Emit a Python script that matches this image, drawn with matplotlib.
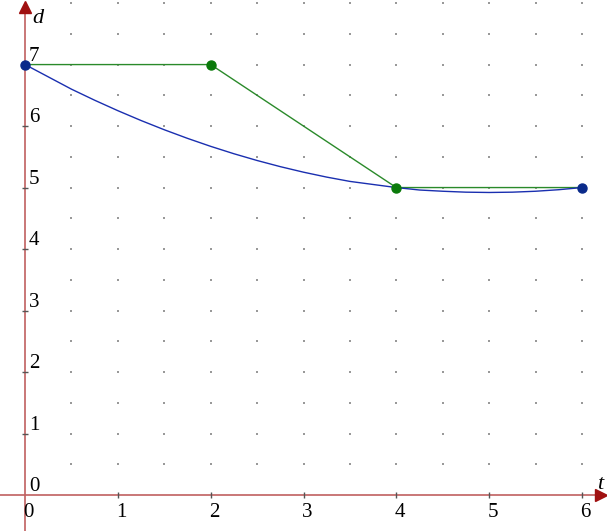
import matplotlib.pyplot as plt
import numpy as np

# values
green_t = [0, 2, 4, 6]
green_d = [7, 7, 5, 5]

blue_t = [0, 0.25, 0.5, 0.75, 1, 1.25, 1.5, 1.75, 2, 2.25, 2.5, 2.75, 3,
          3.25, 3.5, 3.75, 4, 4.25, 4.5, 4.75, 5, 5.25, 5.5, 5.75, 6]
blue_d = [7.0, 6.80, 6.60, 6.42, 6.25, 6.09, 5.94, 5.80, 5.67, 5.55, 5.44,
          5.34, 5.25, 5.17, 5.10, 5.05, 5.0, 4.96, 4.94, 4.925, 4.92, 4.925,
          4.94, 4.965, 5.0]
blue_pts_t = [0, 6]
blue_pts_d = [7, 5]

x_ticks = [0, 1, 2, 3, 4, 5, 6]
y_ticks = [1, 2, 3, 4, 5, 6, 7]

plt.rcParams['font.family'] = ['Liberation Serif', 'DejaVu Serif']

fig = plt.figure(figsize=(6.07, 5.31), dpi=100)
ax = fig.add_axes([0, 0, 1, 1])
xmin, xmax = -0.27, 6.27
ymin, ymax = -0.585, 8.05
ax.set_xlim(xmin, xmax)
ax.set_ylim(ymin, ymax)
ax.axis('off')

# dotted grid
gx, gy = np.meshgrid(np.arange(0.5, 6.01, 0.5), np.arange(0.5, 8.01, 0.5))
ax.scatter(gx.ravel(), gy.ravel(), s=1.4, color='#999999', marker='s', linewidths=0, zorder=1)

# axes
axis_col = '#c06060'
ax.plot([xmin, xmax - 0.08], [0, 0], color=axis_col, lw=1.2, zorder=2)
ax.plot([0, 0], [ymin, ymax - 0.15], color=axis_col, lw=1.2, zorder=2)
ax.plot([xmax - 0.06], [0], marker='>', ms=8, color='#a01010', clip_on=False, zorder=3)
ax.plot([0], [ymax - 0.12], marker='^', ms=8, color='#a01010', clip_on=False, zorder=3)

# ticks
ax.plot(x_ticks[1:], [0] * 6, ls='none', marker='|', ms=4, color='#555555', zorder=3)
ax.plot([0] * 7, y_ticks, ls='none', marker='_', ms=4, color='#555555', zorder=3)

for t in x_ticks:
    ax.text(t + 0.04, -0.13, str(t), ha='center', va='top', fontsize=15)
for d in [0] + y_ticks:
    ax.text(0.04, d - 0.02, str(d), ha='left', va='bottom', fontsize=15)
ax.text(0.14, 7.75, 'd', style='italic', fontsize=16, ha='center', va='center')
ax.text(6.2, 0.17, 't', style='italic', fontsize=16, ha='center', va='center')

# series
ax.plot(green_t, green_d, color='#2a8a2a', lw=1.0, zorder=4)
ax.plot(green_t[1:3], green_d[1:3], ls='none', marker='o', ms=6.5, color='#0a7a0a', zorder=6)
ax.plot(blue_t, blue_d, color='#1a2fb0', lw=1.0, zorder=5)
ax.plot(blue_pts_t, blue_pts_d, ls='none', marker='o', ms=6.5, color='#0a2a8a', zorder=6, clip_on=False)

fig.savefig('out.png', dpi=100)
